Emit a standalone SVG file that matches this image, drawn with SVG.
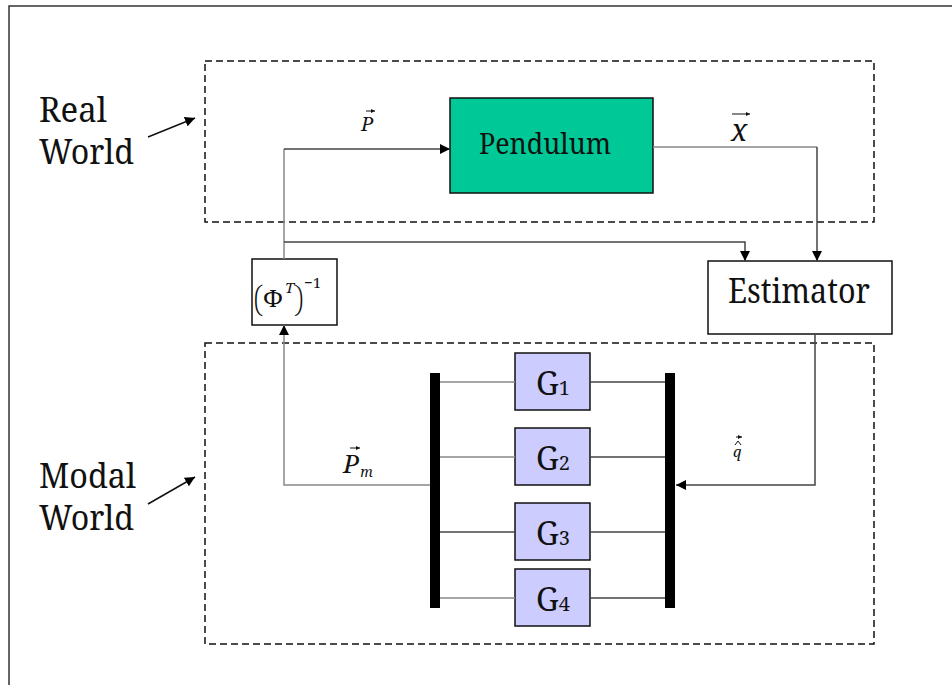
<svg xmlns="http://www.w3.org/2000/svg" width="952" height="685" viewBox="0 0 952 685" font-family="Noto Serif, DejaVu Serif, serif">
<style>
text{fill:#111}
.dash{fill:none;stroke:#111;stroke-width:1.5;stroke-dasharray:7,4}
.c{fill:none;stroke:#444;stroke-width:1.5}
.cg{fill:none;stroke:#888;stroke-width:1.5}
.box{stroke:#111;stroke-width:1.5}
.bar{fill:#000}
.vec{fill:none;stroke:#111;stroke-width:1}
</style>
<defs>
<marker id="ah" viewBox="0 0 10 10" refX="10" refY="5" markerWidth="10" markerHeight="10" markerUnits="userSpaceOnUse" orient="auto">
<path d="M0,0 L10,5 L0,10 Z" fill="#000"/>
</marker>
<marker id="va" viewBox="0 0 10 10" refX="10" refY="5" markerWidth="4" markerHeight="4" markerUnits="userSpaceOnUse" orient="auto">
<path d="M0,0 L10,5 L0,10 Z" fill="#111"/>
</marker>
</defs>
<rect width="952" height="685" fill="#fff"/>
<path d="M9,685 V6 H952" fill="none" stroke="#333" stroke-width="1.5"/>

<g id="real-world">
<rect class="dash" x="205" y="61" width="669" height="161"/>
<text x="39" y="122" font-size="34" textLength="68" lengthAdjust="spacingAndGlyphs">Real</text>
<text x="39" y="164" font-size="34" textLength="95" lengthAdjust="spacingAndGlyphs">World</text>
<line x1="148" y1="137" x2="195" y2="118" stroke="#111" stroke-width="1.5" marker-end="url(#ah)"/>
</g>

<g id="modal-world">
<rect class="dash" x="205" y="343" width="669" height="301"/>
<text x="39" y="488" font-size="34" textLength="97" lengthAdjust="spacingAndGlyphs">Modal</text>
<text x="39" y="530" font-size="34" textLength="95" lengthAdjust="spacingAndGlyphs">World</text>
<line x1="148" y1="504" x2="195" y2="477" stroke="#111" stroke-width="1.5" marker-end="url(#ah)"/>
</g>

<g id="pendulum">
<rect class="box" x="450" y="98" width="203" height="95" fill="#00C896"/>
<text x="479" y="154" font-size="29" textLength="132" lengthAdjust="spacingAndGlyphs">Pendulum</text>
</g>

<g id="estimator">
<rect class="box" x="708" y="261" width="184" height="73" fill="#fff"/>
<text x="728" y="303" font-size="34" textLength="142" lengthAdjust="spacingAndGlyphs">Estimator</text>
</g>

<g id="phi">
<rect class="box" x="252" y="259" width="85" height="66" fill="#fff"/>
<text x="253" y="312" font-size="36" font-weight="200">(</text>
<text x="263" y="307" font-size="24">Φ</text>
<text x="285" y="293" font-size="15" font-style="italic">T</text>
<text x="293" y="312" font-size="36" font-weight="200">)</text>
<text x="304" y="288" font-size="15">−1</text>
</g>

<g id="g1">
<rect class="box" x="515" y="353" width="75" height="57" fill="#CCCCFF"/>
<text x="536" y="395" font-size="32">G<tspan font-size="20">1</tspan></text>
</g>
<g id="g2">
<rect class="box" x="515" y="428" width="75" height="57" fill="#CCCCFF"/>
<text x="536" y="470" font-size="32">G<tspan font-size="20">2</tspan></text>
</g>
<g id="g3">
<rect class="box" x="515" y="503" width="75" height="57" fill="#CCCCFF"/>
<text x="536" y="545" font-size="32">G<tspan font-size="20">3</tspan></text>
</g>
<g id="g4">
<rect class="box" x="515" y="569" width="75" height="57" fill="#CCCCFF"/>
<text x="536" y="611" font-size="32">G<tspan font-size="20">4</tspan></text>
</g>

<g id="bus-left"><rect class="bar" x="430" y="373" width="10" height="235"/></g>
<g id="bus-right"><rect class="bar" x="665" y="373" width="10" height="235"/></g>

<g id="connectors">
<path class="cg" d="M284,259 V149"/>
<path class="c" d="M284,149 H450" marker-end="url(#ah)"/>
<path class="cg" d="M653,147 H817"/>
<path class="c" d="M817,147 V261" marker-end="url(#ah)"/>
<path class="c" d="M284,242 H745 V261" marker-end="url(#ah)"/>
<path class="cg" d="M430,485 H284 V325" marker-end="url(#ah)"/>
<path class="c" d="M815,334 V485 H676" marker-end="url(#ah)"/>
<path class="cg" d="M440,382 H515 M440,457 H515 M440,598 H515"/>
<path class="c" d="M440,532 H515"/>
<path class="c" d="M590,382 H665 M590,457 H665 M590,532 H665 M590,598 H665"/>
</g>

<g id="labels" font-style="italic">
<text x="361" y="131" font-size="20">P</text>
<line class="vec" x1="366" y1="111" x2="375" y2="111" marker-end="url(#va)"/>
<text x="731" y="141" font-size="30">x</text>
<line class="vec" x1="732" y1="114" x2="750" y2="114" marker-end="url(#va)"/>
<text x="343" y="473" font-size="26">P<tspan font-size="14" dx="1" dy="4">m</tspan></text>
<line class="vec" x1="350" y1="448" x2="360" y2="448" marker-end="url(#va)"/>
<text x="733" y="457" font-size="15">q</text>
<path class="vec" d="M735,445 L738,441 L741,445"/>
<line class="vec" x1="736" y1="437" x2="742" y2="437" marker-end="url(#va)"/>
</g>
</svg>
